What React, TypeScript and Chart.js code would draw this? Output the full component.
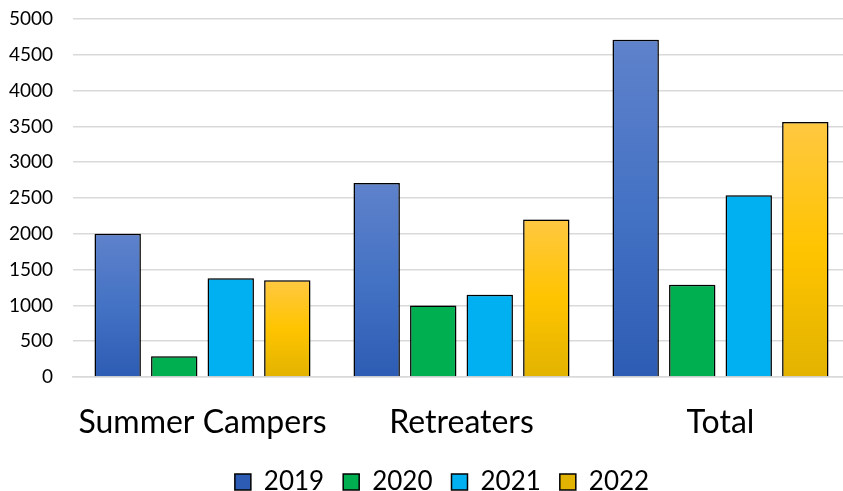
import React, { useEffect, useRef } from "react";
import { Chart, registerables } from "chart.js";

Chart.register(...registerables);

const categories = ["Summer Campers", "Retreaters", "Total"];
const seriesLabels = ["2019", "2020", "2021", "2022"];
const values2019 = [2000, 2710, 4710];
const values2020 = [290, 1000, 1290];
const values2021 = [1380, 1150, 2540];
const values2022 = [1350, 2200, 3560];
const yTicks = [0, 500, 1000, 1500, 2000, 2500, 3000, 3500, 4000, 4500, 5000];

const FONT = "Lato, 'Open Sans', sans-serif";

type Stops = [number, string][];
const blueStops: Stops = [[0, "#5F82CB"], [0.5, "#4472C4"], [1, "#2D5CB4"]];
const greenStops: Stops = [[0, "#00B050"], [1, "#00B050"]];
const cyanStops: Stops = [[0, "#00B0F0"], [1, "#00B0F0"]];
const yellowStops: Stops = [[0, "#FFC841"], [0.5, "#FFC400"], [1, "#E2B300"]];

function gradientFill(stops: Stops, fallback: string) {
  return (ctx: any) => {
    const chart = ctx.chart;
    if (!chart.chartArea || ctx.raw === undefined || ctx.type !== "data") return fallback;
    const y = chart.scales.y;
    const top = y.getPixelForValue(ctx.raw);
    const base = y.getPixelForValue(0);
    if (!isFinite(top) || !isFinite(base) || top === base) return fallback;
    const g = chart.ctx.createLinearGradient(0, top, 0, base);
    stops.forEach(([o, c]) => g.addColorStop(o, c));
    return g;
  };
}

const shadowPlugin = {
  id: "barShadow",
  beforeDatasetsDraw(chart: any) {
    const c = chart.ctx;
    c.save();
    c.shadowColor = "rgba(0,0,0,0.35)";
    c.shadowBlur = 6;
    c.shadowOffsetX = 0;
    c.shadowOffsetY = 0;
  },
  afterDatasetsDraw(chart: any) {
    chart.ctx.restore();
  },
};

const legendShiftPlugin = {
  id: "legendShift",
  afterLayout(chart: any) {
    const lg = chart.legend;
    if (lg) {
      lg.left += 13;
      lg.right += 13;
    }
  },
};

export default function App() {
  const ref = useRef<HTMLCanvasElement | null>(null);

  useEffect(() => {
    if (!ref.current) return;
    const mk = (label: string, data: number[], stops: Stops, solid: string) => ({
      label,
      data,
      backgroundColor: gradientFill(stops, solid),
      borderColor: "#000000",
      borderWidth: 1.5,
      barPercentage: 0.82,
      categoryPercentage: 0.873,
    });
    const chart = new Chart(ref.current, {
      type: "bar",
      data: {
        labels: categories,
        datasets: [
          mk(seriesLabels[0], values2019, blueStops, "#4472C4"),
          mk(seriesLabels[1], values2020, greenStops, "#00B050"),
          mk(seriesLabels[2], values2021, cyanStops, "#00B0F0"),
          mk(seriesLabels[3], values2022, yellowStops, "#FFC000"),
        ],
      },
      options: {
        responsive: true,
        maintainAspectRatio: false,
        animation: false,
        layout: { padding: { top: 19, right: 0, bottom: -14, left: 8 } },
        plugins: {
          tooltip: { enabled: false },
          legend: {
            position: "bottom",
            labels: {
              font: { family: FONT, size: 26 },
              color: "#000000",
              boxWidth: 16,
              boxHeight: 16,
              padding: 19,
            },
          },
        },
        scales: {
          x: {
            grid: { display: false, drawTicks: false },
            border: { display: true, color: "#D9D9D9", width: 1.5 },
            ticks: {
              font: { family: FONT, size: 32 },
              color: "#000000",
              padding: 26,
              maxRotation: 0,
              minRotation: 0,
              autoSkip: false,
            },
            afterFit: (axis: any) => {
              axis.paddingLeft = 0;
              axis.paddingRight = 0;
              axis.height = 73;
            },
          },
          y: {
            min: 0,
            max: 5000,
            afterBuildTicks: (axis: any) => {
              axis.ticks = yTicks.map((v) => ({ value: v }));
            },
            afterFit: (axis: any) => {
              axis.width = 65;
              axis.paddingTop = 0;
              axis.paddingBottom = 0;
            },
            grid: { color: "#D9D9D9", lineWidth: 1.5, drawTicks: false },
            border: { display: false },
            ticks: {
              font: { family: FONT, size: 19 },
              color: "#000000",
              padding: 20,
              callback: (v: any) => String(v),
            },
          },
        },
      },
      plugins: [shadowPlugin, legendShiftPlugin],
    });
    return () => chart.destroy();
  }, []);

  return (
    <div style={{ position: "absolute", left: 0, top: 0, width: 843, height: 491, overflow: "hidden" }}>
      <div style={{ position: "relative", width: 850, height: 491 }}>
        <canvas ref={ref} />
      </div>
    </div>
  );
}
